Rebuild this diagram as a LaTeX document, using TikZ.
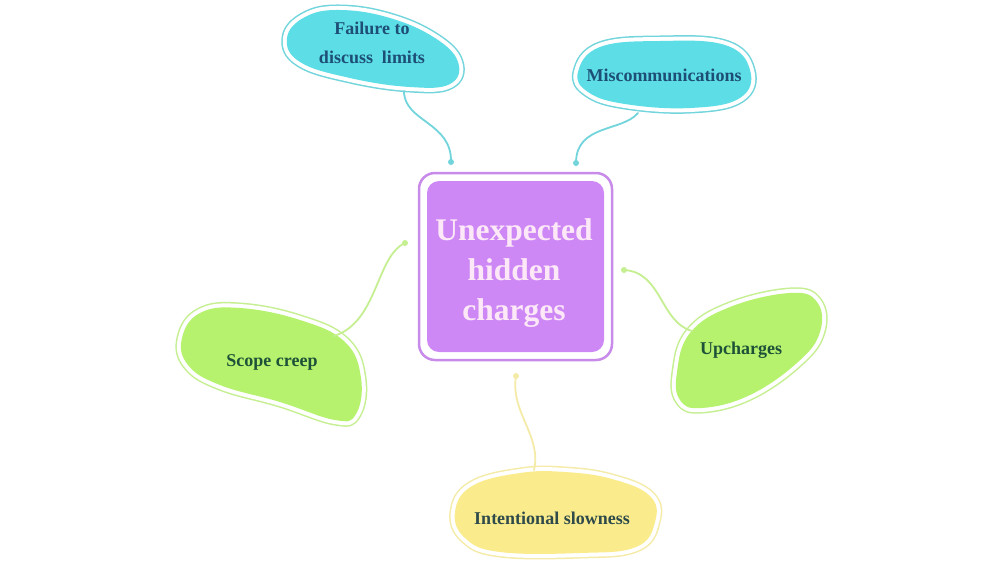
\documentclass[tikz,border=0pt]{standalone}
\usepackage{fontspec}
\setmainfont{Liberation Serif}
\definecolor{cyanfill}{HTML}{5DDDE6}
\definecolor{cyanline}{HTML}{72D5DC}
\definecolor{greenfill}{HTML}{B6F26E}
\definecolor{greenline}{HTML}{C6EF92}
\definecolor{yellowfill}{HTML}{FAEC8C}
\definecolor{yellowline}{HTML}{F5EBA8}
\definecolor{purplefill}{HTML}{CD88F6}
\definecolor{purpleline}{HTML}{C88BEA}
\definecolor{centertext}{HTML}{FDE8F7}
\definecolor{bluetext}{HTML}{1D4E75}
\definecolor{greentext}{HTML}{1E5238}
\definecolor{slatetext}{HTML}{2E4A4A}
\tikzset{
  leaf/.style={font=\bfseries\fontsize{18}{29}\selectfont, align=center, inner sep=0pt},
  centre/.style={font=\bfseries\fontsize{31.5}{40}\selectfont, align=center, inner sep=0pt, text=centertext},
  link/.style={line width=1.8pt, line cap=round},
}
\newcommand{\blobshape}[3]{%
  \draw[#1, line width=11pt, line join=round] plot[smooth cycle, tension=0.7] coordinates {#3};
  \draw[white, line width=8pt, line join=round] plot[smooth cycle, tension=0.7] coordinates {#3};
  \fill[#2] plot[smooth cycle, tension=0.7] coordinates {#3};
}
\begin{document}
\begin{tikzpicture}[x=1pt,y=-1pt]
\fill[white] (0,0) rectangle (1000,563);
\useasboundingbox (0,0) rectangle (1000,563);

% blobs
\blobshape{cyanline}{cyanfill}{(287,38) (305,17) (340,10) (390,18) (435,38) (458,62) (450,84) (410,87) (350,78) (300,62)}
\blobshape{cyanline}{cyanfill}{(578,72) (600,47) (660,41) (725,45) (750,70) (740,98) (690,108) (625,104) (588,92)}
\blobshape{greenline}{greenfill}{(182,338) (200,313) (240,308) (300,320) (345,342) (361,378) (356,414) (335,420) (280,402) (220,385) (188,365)}
\blobshape{greenline}{greenfill}{(677,372) (690,333) (730,307) (790,293) (817,302) (820,332) (798,362) (750,395) (702,408) (680,400)}
\blobshape{yellowline}{yellowfill}{(455,512) (472,486) (520,473) (565,472) (612,479) (650,496) (655,522) (636,547) (580,553) (500,552) (465,538)}

% central box
\draw[purpleline, line width=2.5pt, rounded corners=16pt] (419,173) rectangle (612,360);
\fill[purplefill, rounded corners=12pt] (427,181) rectangle (604,352);

% nodes
\node[centre] (hub) at (514,273) {Unexpected\\hidden\\charges};
\node[leaf, text=bluetext] (fail) at (372,43) {Failure to\\discuss\ \ limits};
\node[leaf, text=bluetext] (misc) at (664,75) {Miscommunications};
\node[leaf, text=greentext] (scope) at (272,362) {Scope creep};
\node[leaf, text=greentext] (upch) at (741,350) {Upcharges};
\node[leaf, text=slatetext] (slow) at (552,518) {Intentional slowness};

% connector ends
\coordinate (failA) at (404,91);
\coordinate (failB) at (451,162);
\coordinate (miscA) at (638,113);
\coordinate (miscB) at (576,163);
\coordinate (scopeA) at (334,336);
\coordinate (scopeB) at (405,243);
\coordinate (upchA) at (692,331);
\coordinate (upchB) at (624,270);
\coordinate (slowA) at (534,470);
\coordinate (slowB) at (516,376);

% connectors
\draw[link, cyanline] (failA) .. controls (404,122) and (452,122) .. (failB);
\fill[cyanline] (failB) circle (3pt);
\draw[link, cyanline] (miscA) .. controls (622,132) and (576,124) .. (miscB);
\fill[cyanline] (miscB) circle (3pt);
\draw[link, greenline] (scopeA) .. controls (378,322) and (376,256) .. (scopeB);
\fill[greenline] (scopeB) circle (3pt);
\draw[link, greenline] (upchA) .. controls (660,322) and (662,272) .. (upchB);
\fill[greenline] (upchB) circle (3pt);
\draw[link, yellowline] (slowA) .. controls (542,436) and (510,412) .. (slowB);
\fill[yellowline] (slowB) circle (3pt);
\end{tikzpicture}
\end{document}
